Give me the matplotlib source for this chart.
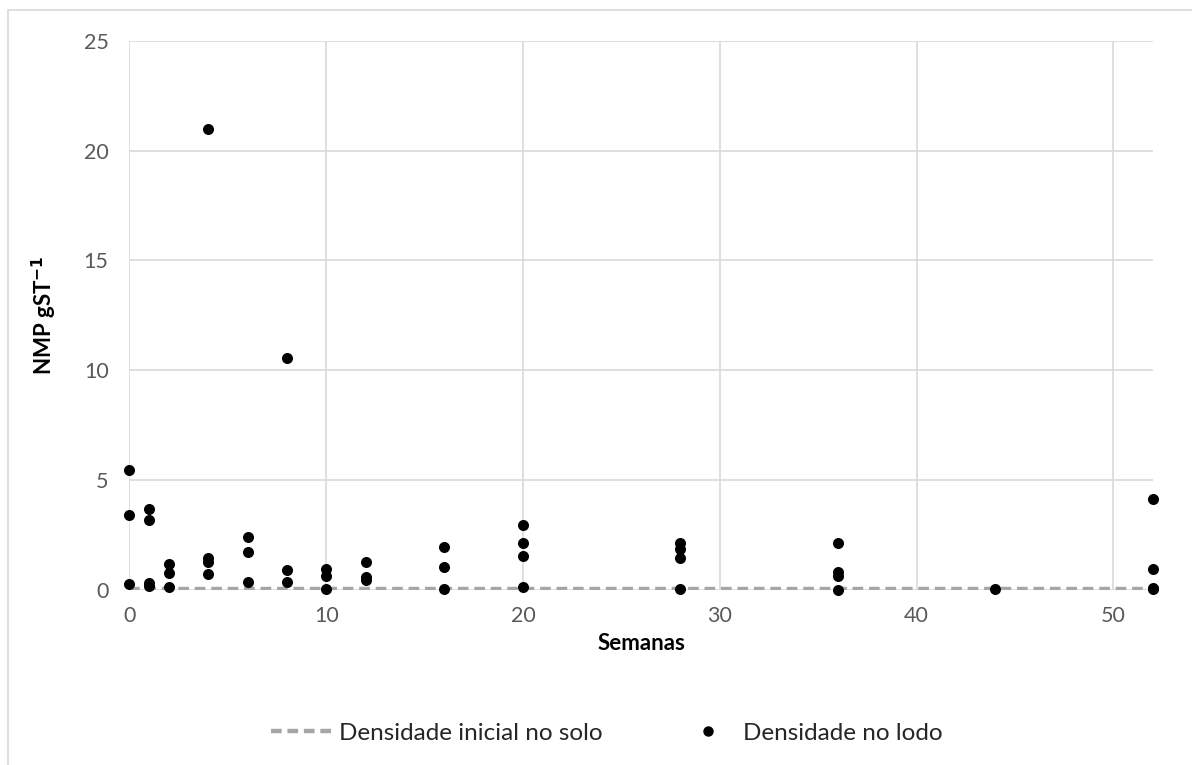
import matplotlib.pyplot as plt
from matplotlib.patches import Rectangle
from matplotlib.lines import Line2D

plt.rcParams['font.family'] = ['Lato', 'DejaVu Sans']

# weeks and measured densities in the sludge (NMP per g ST)
semanas = [0, 0, 0,
           1, 1, 1, 1,
           2, 2, 2,
           4, 4, 4, 4,
           6, 6, 6,
           8, 8, 8,
           10, 10, 10,
           12, 12, 12,
           16, 16, 16,
           20, 20, 20, 20,
           28, 28, 28, 28,
           36, 36, 36, 36,
           44,
           52, 52, 52, 52]
densidade_lodo = [5.45, 3.40, 0.27,
                  3.68, 3.17, 0.28, 0.15,
                  1.15, 0.74, 0.13,
                  21.0, 1.44, 1.27, 0.72,
                  2.41, 1.70, 0.36,
                  10.55, 0.87, 0.33,
                  0.93, 0.62, 0.03,
                  1.24, 0.58, 0.43,
                  1.95, 1.01, 0.03,
                  2.94, 2.12, 1.54, 0.13,
                  2.13, 1.85, 1.44, 0.03,
                  2.12, 0.78, 0.63, 0.0,
                  0.03,
                  4.11, 0.95, 0.03, 0.05]

# initial density in the soil (flat reference line)
semanas_solo = [0, 52]
densidade_solo = [0.02, 0.02]

fig = plt.figure(figsize=(11.92, 7.65), dpi=100)
fig.patches.append(Rectangle((8 / 1192, -0.05), 1.2, 1 - 10 / 765 + 0.05,
                             transform=fig.transFigure, fill=False,
                             edgecolor='#D9D9D9', linewidth=1.2))

ax = fig.add_axes([0.1086, 0.2294, 0.9670 - 0.1086, 0.9464 - 0.2294])

dash = (0, (2.4, 1.3))
ax.plot(semanas_solo, densidade_solo, color='#A6A6A6', linewidth=3.2,
        linestyle=dash, zorder=2)
ax.scatter(semanas, densidade_lodo, s=48, color='black', zorder=3,
           clip_on=False)

ax.set_xlim(0, 52)
ax.set_ylim(0, 25)
ax.set_xticks(range(0, 51, 10))
ax.set_yticks(range(0, 26, 5))
ax.grid(True, color='#D9D9D9', linewidth=1.2)
ax.set_axisbelow(True)
for s in ax.spines.values():
    s.set_visible(False)
ax.tick_params(length=0, labelsize=15.5, labelcolor='#595959', pad=12)
ax.tick_params(axis='y', pad=15)

ax.set_xlabel('Semanas', fontsize=16, fontweight='bold', labelpad=5)
ax.set_ylabel(r'NMP gST$^{\mathbf{-1}}$', fontsize=16, fontweight='bold',
              labelpad=18)

handles = [
    Line2D([], [], color='#A6A6A6', linewidth=3.2, linestyle=dash),
    Line2D([], [], color='black', marker='o', markersize=6.5, linestyle='none'),
]
fig.legend(handles, ['Densidade inicial no solo', 'Densidade no lodo'],
           loc='center', bbox_to_anchor=(0.509, 1 - 733 / 765), ncol=2,
           frameon=False, fontsize=17.5, handlelength=2.7, handletextpad=0.1,
           columnspacing=3.0, labelcolor='#262626')

fig.savefig('out.png', dpi=100)
